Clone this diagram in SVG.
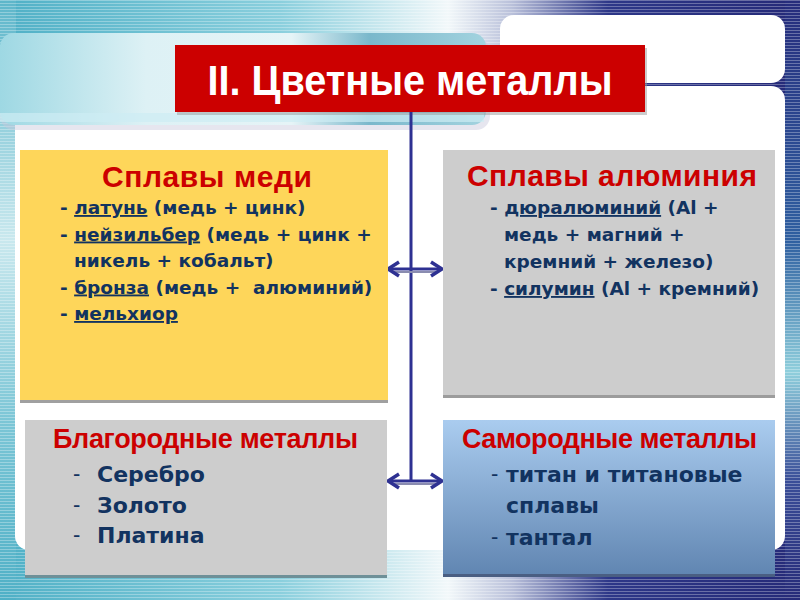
<svg xmlns="http://www.w3.org/2000/svg" width="800" height="600" viewBox="0 0 800 600">
  <defs>
    <linearGradient id="bgH" x1="0" y1="0" x2="1" y2="0">
      <stop offset="0" stop-color="#4FB0C6"/>
      <stop offset="0.35" stop-color="#8ACFDD"/>
      <stop offset="0.56" stop-color="#F2F8FA"/>
      <stop offset="0.64" stop-color="#B9C0DA"/>
      <stop offset="0.76" stop-color="#2D3788"/>
      <stop offset="1" stop-color="#252A78"/>
    </linearGradient>
    <linearGradient id="rightEdge" x1="0" y1="0" x2="0" y2="1">
      <stop offset="0" stop-color="#262C7C"/>
      <stop offset="0.4" stop-color="#2F5FA0"/>
      <stop offset="0.62" stop-color="#8FCFDC"/>
      <stop offset="0.8" stop-color="#3A4E98"/>
      <stop offset="1" stop-color="#262A78"/>
    </linearGradient>
    <linearGradient id="leftEdge" x1="0" y1="0" x2="0" y2="1">
      <stop offset="0" stop-color="#5DB6CA"/>
      <stop offset="0.4" stop-color="#C9E8EE"/>
      <stop offset="0.7" stop-color="#7CC6D6"/>
      <stop offset="1" stop-color="#4FB0C6"/>
    </linearGradient>
    <linearGradient id="headerBar" x1="0" y1="0" x2="1" y2="0">
      <stop offset="0" stop-color="#9ED8E3"/>
      <stop offset="0.3" stop-color="#DDF1F5"/>
      <stop offset="0.6" stop-color="#E6F4F7"/>
      <stop offset="0.76" stop-color="#7AB8CB"/>
      <stop offset="1" stop-color="#A3D3DF"/>
    </linearGradient>
    <linearGradient id="blueBox" x1="0" y1="0" x2="0" y2="1">
      <stop offset="0" stop-color="#AACCEF"/>
      <stop offset="1" stop-color="#6186B2"/>
    </linearGradient>
    <pattern id="stripes" width="8" height="3" patternUnits="userSpaceOnUse">
      <rect x="0" y="0" width="8" height="1" fill="#FFFFFF" fill-opacity="0.3"/>
    </pattern>
    <marker id="chev" viewBox="-15 -9 17 18" refX="0" refY="0" markerWidth="17" markerHeight="18" markerUnits="userSpaceOnUse" orient="auto-start-reverse">
      <path d="M-11,-7 L0,0 L-11,7" fill="none" stroke="#2E3192" stroke-width="3.5" stroke-linejoin="miter"/>
    </marker>
    <style>
      .list { font-family: "DejaVu Sans", "Noto Sans", sans-serif; font-weight: bold; fill: #123360; }
      .s18 { font-size: 18.5px; }
      .s22 { font-size: 22px; }
      .dash { font-family: "Liberation Sans", Arial, sans-serif; font-weight: normal; font-size: 22px; fill: #123360; }
      .head { font-family: "Liberation Sans", Arial, sans-serif; font-weight: bold; fill: #CC0000; text-anchor: middle; }
      .u { text-decoration: underline; }
      .conn { stroke: #2E3192; stroke-width: 3; fill: none; }
      .connShade { stroke: #8A8CB0; stroke-width: 2; fill: none; }
    </style>
  </defs>

  <g id="background">
    <rect x="0" y="0" width="800" height="600" fill="url(#bgH)"/>
    <rect x="0" y="0" width="16" height="600" fill="url(#leftEdge)"/>
    <rect x="785" y="0" width="15" height="600" fill="url(#rightEdge)"/>
    <rect x="0" y="0" width="800" height="600" fill="url(#stripes)"/>
    <rect x="500" y="15" width="285" height="68" rx="14" fill="#FFFFFF"/>
    <rect x="15" y="86" width="770" height="464" rx="14" fill="#FFFFFF"/>
    <rect x="0" y="38" width="490" height="92" rx="14" fill="#C8C8DC" opacity="0.45"/>
    <rect x="0" y="33" width="486" height="92" rx="14" fill="url(#headerBar)"/>
    <rect x="0" y="113" width="484" height="9" fill="#CDEDF3" opacity="0.7"/>
  </g>

  <g id="title">
    <rect x="177" y="48" width="470" height="67" fill="#9A9A9A" opacity="0.5"/>
    <rect x="175" y="45" width="470" height="67" fill="#CC0000"/>
    <text x="410" y="95" text-anchor="middle" font-family="'Liberation Sans Narrow', 'Liberation Sans', Arial, sans-serif" font-weight="bold" font-size="42" fill="#FFFFFF" textLength="405" lengthAdjust="spacingAndGlyphs">II. Цветные металлы</text>
  </g>

  <g id="connectors">
    <line class="conn" x1="411" y1="112" x2="411" y2="482"/>
    <line class="connShade" x1="392" y1="272" x2="438" y2="272"/>
    <line class="conn" x1="388" y1="269" x2="442" y2="269" marker-start="url(#chev)" marker-end="url(#chev)"/>
    <line class="connShade" x1="392" y1="484" x2="438" y2="484"/>
    <line class="conn" x1="388" y1="481" x2="442" y2="481" marker-start="url(#chev)" marker-end="url(#chev)"/>
  </g>

  <g id="copper-alloys">
    <rect x="20" y="152" width="368" height="251" fill="#A0A0A0"/>
    <rect x="20" y="150" width="368" height="250" fill="#FED65A"/>
    <text class="head" x="207" y="187" font-size="30" textLength="210">Сплавы меди</text>
    <text class="list s18" x="60" y="214">- <tspan class="u">латунь</tspan> (медь + цинк)</text>
    <text class="list s18" x="60" y="240.5">- <tspan class="u">нейзильбер</tspan> (медь + цинк +</text>
    <text class="list s18" x="74" y="267">никель + кобальт)</text>
    <text class="list s18" x="60" y="293.5" xml:space="preserve">- <tspan class="u">бронза</tspan> (медь +  алюминий)</text>
    <text class="list s18" x="60" y="320">- <tspan class="u">мельхиор</tspan></text>
  </g>

  <g id="aluminium-alloys">
    <rect x="443" y="152" width="332" height="246" fill="#9C9C9C"/>
    <rect x="443" y="150" width="332" height="245" fill="#CDCDCD"/>
    <text class="head" x="612" y="186" font-size="30" textLength="290">Сплавы алюминия</text>
    <text class="list s18" x="490" y="214">- <tspan class="u">дюралюминий</tspan> (Al +</text>
    <text class="list s18" x="504" y="241">медь + магний +</text>
    <text class="list s18" x="504" y="268">кремний + железо)</text>
    <text class="list s18" x="490" y="295">- <tspan class="u">силумин</tspan> (Al + кремний)</text>
  </g>

  <g id="noble-metals">
    <rect x="25" y="422" width="362" height="156" fill="#6E9098"/>
    <rect x="25" y="420" width="362" height="155" fill="#CDCDCD"/>
    <text class="head" x="205.5" y="448" font-size="27" textLength="305">Благородные металлы</text>
    <text class="dash" x="73" y="481">-</text>
    <text class="list s22" x="97" y="482">Серебро</text>
    <text class="dash" x="73" y="511.5">-</text>
    <text class="list s22" x="97" y="512.5">Золото</text>
    <text class="dash" x="73" y="542">-</text>
    <text class="list s22" x="97" y="543">Платина</text>
  </g>

  <g id="native-metals">
    <rect x="443" y="422" width="332" height="155" fill="#4A5E82"/>
    <rect x="443" y="420" width="332" height="154" fill="url(#blueBox)"/>
    <text class="head" x="609.5" y="448" font-size="27" textLength="295">Самородные металлы</text>
    <text class="dash" x="491" y="481">-</text>
    <text class="list s22" x="506" y="482">титан и титановые</text>
    <text class="list s22" x="506" y="513">сплавы</text>
    <text class="dash" x="491" y="544">-</text>
    <text class="list s22" x="506" y="545">тантал</text>
  </g>
</svg>
